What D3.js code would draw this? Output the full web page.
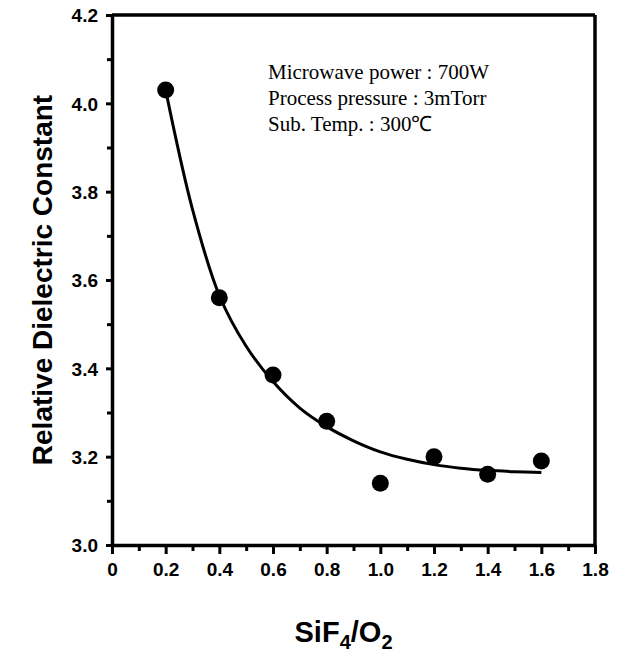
<!DOCTYPE html>
<html>
<head>
<meta charset="utf-8">
<script src="https://cdn.jsdelivr.net/npm/d3@7"></script>
<style>
  body { margin: 0; background: #fff; }
  .tick text { font-family: "Liberation Sans", Arial, sans-serif; font-weight: bold; font-size: 19px; fill: #000; }
  .axis path, .axis line { stroke: #000; }
</style>
</head>
<body>
<svg width="629" height="655"></svg>
<script>
// measured points
let ratio = [0.2, 0.4, 0.6, 0.8, 1.0, 1.2, 1.4, 1.6];
let dielectric = [4.03, 3.56, 3.385, 3.28, 3.14, 3.20, 3.16, 3.19];

// fitted curve
let fitX = [0.2, 0.3, 0.4, 0.5, 0.6, 0.7, 0.8, 0.9, 1.0, 1.1, 1.2, 1.3, 1.4, 1.5, 1.6];
let fitY = [4.03, 3.76, 3.565, 3.45, 3.37, 3.31, 3.268, 3.236, 3.211, 3.194, 3.182, 3.174, 3.169, 3.166, 3.164];

let xTicks = [0, 0.2, 0.4, 0.6, 0.8, 1.0, 1.2, 1.4, 1.6, 1.8];
let xTickLabels = ["0", "0.2", "0.4", "0.6", "0.8", "1.0", "1.2", "1.4", "1.6", "1.8"];
let yTicks = [3.0, 3.2, 3.4, 3.6, 3.8, 4.0, 4.2];
let notes = ["Microwave power : 700W", "Process pressure : 3mTorr", "Sub. Temp. : 300\u2103"];

function drawGraph() {
  let svg = d3.select("svg"),
    margin = { top: 15, right: 34, bottom: 110, left: 112 },
    width = svg.attr("width") - margin.left - margin.right,
    height = svg.attr("height") - margin.top - margin.bottom,
    g = svg.append("g").attr("transform", "translate(" + margin.left + "," + margin.top + ")");

  let x = d3.scaleLinear().domain([0, 1.8]).range([0, width]),
    y = d3.scaleLinear().domain([3.0, 4.2]).range([height, 0]);

  let xMinor = d3.range(0, 19).map(i => i / 10).filter(v => Math.round(v * 10) % 2 === 1);
  let yMinor = d3.range(30, 43).map(i => i / 10).filter(v => Math.round(v * 10) % 2 === 1);

  // minor ticks
  g.append("g")
    .attr("class", "axis")
    .attr("transform", "translate(0," + height + ")")
    .call(d3.axisBottom(x).tickValues(xMinor).tickSize(6).tickFormat(""))
    .call(a => a.select(".domain").remove())
    .selectAll("line").attr("stroke-width", 3);

  g.append("g")
    .attr("class", "axis")
    .call(d3.axisLeft(y).tickValues(yMinor).tickSize(5).tickFormat(""))
    .call(a => a.select(".domain").remove())
    .selectAll("line").attr("stroke-width", 3);

  // major ticks
  let xAxis = g.append("g")
    .attr("class", "axis")
    .attr("transform", "translate(0," + height + ")")
    .call(d3.axisBottom(x).tickValues(xTicks).tickSize(9).tickSizeOuter(0).tickPadding(9)
      .tickFormat((d, i) => xTickLabels[i]));
  xAxis.selectAll("line").attr("stroke-width", 3);
  xAxis.select(".domain").attr("stroke-width", 3.5);

  let yAxis = g.append("g")
    .attr("class", "axis")
    .call(d3.axisLeft(y).tickValues(yTicks).tickSize(6).tickSizeOuter(0).tickPadding(8)
      .tickFormat(d3.format(".1f")));
  yAxis.selectAll("line").attr("stroke-width", 3);
  yAxis.select(".domain").attr("stroke-width", 3.5);
  yAxis.selectAll("text").attr("dy", "0.36em");

  // top and right frame
  g.append("line")
    .attr("x1", x(0)).attr("x2", x(1.8)).attr("y1", y(4.2)).attr("y2", y(4.2))
    .attr("stroke", "#000").attr("stroke-width", 3.5);
  g.append("line")
    .attr("x1", x(1.8)).attr("x2", x(1.8)).attr("y1", y(4.2)).attr("y2", y(3.0))
    .attr("stroke", "#000").attr("stroke-width", 3.5);

  // fitted curve
  let fit = fitX.map((v, i) => ({ x: v, y: fitY[i] }));
  let line = d3.line()
    .curve(d3.curveCatmullRom)
    .x(d => x(d.x))
    .y(d => y(d.y));

  g.append("path")
    .datum(fit)
    .attr("d", line)
    .attr("fill", "none")
    .attr("stroke", "#000")
    .attr("stroke-width", 3);

  // points
  g.selectAll(".dot")
    .data(ratio.map((v, i) => ({ x: v, y: dielectric[i] })))
    .enter().append("circle")
    .attr("class", "dot")
    .attr("cx", d => x(d.x))
    .attr("cy", d => y(d.y))
    .attr("r", 8.5)
    .attr("fill", "#000");

  // conditions
  g.append("g")
    .selectAll("text")
    .data(notes)
    .enter().append("text")
    .attr("x", 156)
    .attr("y", (d, i) => 64 + i * 26)
    .style("font-family", "'Liberation Serif', 'Times New Roman', serif")
    .style("font-size", "21px")
    .text(d => d);

  // axis titles
  svg.append("text")
    .attr("transform", "translate(52," + (margin.top + height / 2) + ") rotate(-90)")
    .attr("text-anchor", "middle")
    .style("font-family", "'Liberation Sans', Arial, sans-serif")
    .style("font-weight", "bold")
    .style("font-size", "28px")
    .text("Relative Dielectric Constant");

  let xt = svg.append("text")
    .attr("x", margin.left + width / 2 - 10)
    .attr("y", 642)
    .attr("text-anchor", "middle")
    .style("font-family", "'Liberation Sans', Arial, sans-serif")
    .style("font-weight", "bold")
    .style("font-size", "29px");
  xt.append("tspan").text("SiF");
  xt.append("tspan").attr("dy", 7).style("font-size", "20px").text("4");
  xt.append("tspan").attr("dy", -7).text("/O");
  xt.append("tspan").attr("dy", 7).style("font-size", "20px").text("2");
}

drawGraph();
</script>
</body>
</html>
